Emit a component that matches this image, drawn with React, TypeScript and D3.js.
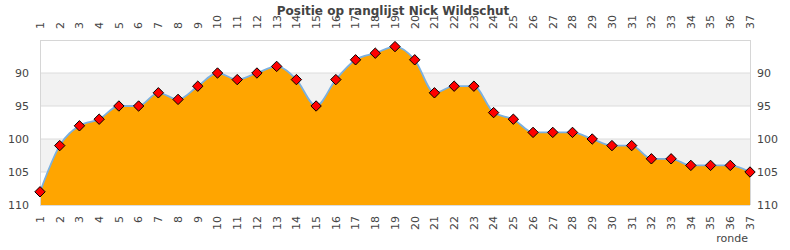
import React from "react";
import * as d3 from "d3";

const rounds: number[] = Array.from({ length: 37 }, (_, i) => i + 1);
const positions: number[] = [
  108, 101, 98, 97, 95, 95, 93, 94, 92, 90, 91, 90, 89, 91, 95, 91, 88, 87, 86, 88,
  93, 92, 92, 96, 97, 99, 99, 99, 100, 101, 101, 103, 103, 104, 104, 104, 105,
];
const yTicks: number[] = [90, 95, 100, 105, 110];
const bands: [number, number][] = [
  [90, 95],
  [100, 105],
];
const title = "Positie op ranglijst Nick Wildschut";
const xTitle = "ronde";

export default function App() {
  const W = 790,
    H = 250;
  const left = 40,
    right = 750,
    top = 40,
    bottom = 205;
  const x = d3.scaleLinear().domain([1, 37]).range([left, right]);
  const y = d3.scaleLinear().domain([85, 110]).range([top, bottom]);
  const data = rounds.map((r, i) => ({ r, v: positions[i] }));
  const line = d3
    .line<{ r: number; v: number }>()
    .x((d) => x(d.r))
    .y((d) => y(d.v))
    .curve(d3.curveMonotoneX);
  const area = d3
    .area<{ r: number; v: number }>()
    .x((d) => x(d.r))
    .y0(bottom)
    .y1((d) => y(d.v))
    .curve(d3.curveMonotoneX);
  const font = "'DejaVu Sans', Verdana, sans-serif";
  const dm = 5.2;
  return (
    <svg
      width={W}
      height={H}
      style={{ position: "absolute", left: 0, top: 0, background: "#fff" }}
      fontFamily={font}
    >
      <rect x={0} y={0} width={W} height={H} fill="#fff" />
      {bands.map(([a, b], i) => (
        <rect key={i} x={left} y={y(a)} width={right - left} height={y(b) - y(a)} fill="#f2f2f2" />
      ))}
      {yTicks.map((t) => (
        <line key={t} x1={left} x2={right} y1={y(t)} y2={y(t)} stroke="#dcdcdc" strokeWidth={1} />
      ))}
      <path d={area(data) || ""} fill="#ffa500" />
      <path d={line(data) || ""} fill="none" stroke="#7ab0e0" strokeWidth={1.8} />
      <line x1={left + 0.5} x2={left + 0.5} y1={top} y2={bottom} stroke="#d6d6d6" />
      <line x1={right + 0.5} x2={right + 0.5} y1={top} y2={bottom} stroke="#d6d6d6" />
      <line x1={left} x2={right} y1={top + 0.5} y2={top + 0.5} stroke="#d6d6d6" />
      <line x1={left} x2={right} y1={bottom + 0.5} y2={bottom + 0.5} stroke="#dcdcdc" />
      {data.map((d) => {
        const cx = x(d.r),
          cy = y(d.v);
        return (
          <path
            key={d.r}
            d={`M${cx},${cy - dm}L${cx + dm},${cy}L${cx},${cy + dm}L${cx - dm},${cy}Z`}
            fill="#ff0000"
            stroke="#000"
            strokeWidth={1}
            strokeLinejoin="round"
          />
        );
      })}
      {yTicks.map((t) => (
        <g key={"yl" + t}>
          <text x={29} y={y(t)} dy="0.35em" textAnchor="end" fontSize={11} fill="#444">
            {t}
          </text>
          <text x={757} y={y(t)} dy="0.35em" textAnchor="start" fontSize={11} fill="#444">
            {t}
          </text>
        </g>
      ))}
      {rounds.map((r) => (
        <g key={"xl" + r}>
          <text
            transform={`translate(${x(r)},29) rotate(-90)`}
            dy="0.35em"
            textAnchor="start"
            fontSize={11}
            fill="#444"
          >
            {r}
          </text>
          <text
            transform={`translate(${x(r)},216) rotate(-90)`}
            dy="0.35em"
            textAnchor="end"
            fontSize={11}
            fill="#444"
          >
            {r}
          </text>
        </g>
      ))}
      <text x={748} y={242} textAnchor="end" fontSize={11} fill="#444">
        {xTitle}
      </text>
      <text x={393} y={15} textAnchor="middle" fontSize={12} fontWeight="bold" fill="#444">
        {title}
      </text>
    </svg>
  );
}
